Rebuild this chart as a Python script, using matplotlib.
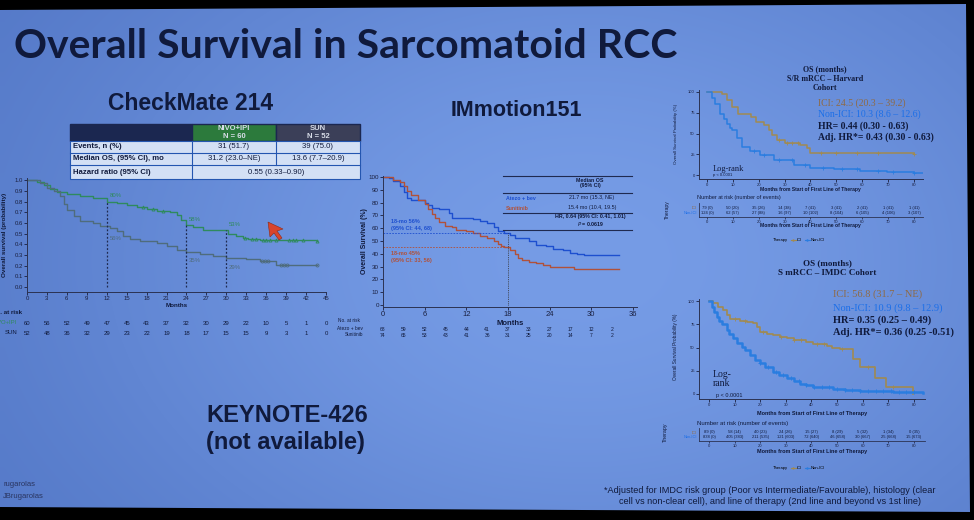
import numpy as np
import matplotlib.pyplot as plt
from matplotlib.lines import Line2D
from matplotlib.patches import Polygon, Rectangle

plt.rcParams['font.family'] = ['Liberation Sans', 'DejaVu Sans']

W, H = 974, 520

# ---------------- data ----------------
# CheckMate 214 (sarcomatoid subgroup)
cm_nivo_t = [0, 1.5, 2.5, 3.5, 4.5, 6, 8, 10, 12, 13.5, 15, 16.5, 18, 19.5, 21.5, 22.5, 23.2, 24, 25, 26.5, 30.3, 31.5, 32.5, 33.3, 35, 43.6]
cm_nivo_s = [1.0, 0.98, 0.95, 0.92, 0.89, 0.87, 0.85, 0.83, 0.80, 0.79, 0.77, 0.75, 0.73, 0.71, 0.70, 0.67, 0.63, 0.58, 0.56, 0.53, 0.50, 0.48, 0.46, 0.45, 0.44, 0.43]
cm_sun_t = [0, 2, 3, 4, 5, 5.5, 6, 7, 8, 10, 11, 12.5, 13.5, 14.5, 15.5, 17, 19.5, 21, 22.5, 24, 26, 28, 30, 33, 35, 37.5, 43.6]
cm_sun_s = [1.0, 0.97, 0.93, 0.90, 0.85, 0.78, 0.72, 0.66, 0.62, 0.60, 0.57, 0.55, 0.52, 0.48, 0.45, 0.43, 0.41, 0.38, 0.35, 0.33, 0.31, 0.29, 0.27, 0.26, 0.24, 0.21, 0.21]
cm_nivo_cens = [17.5, 19, 20.5, 32.8, 33.8, 34.5, 35.5, 36, 36.5, 37.5, 39.5, 40, 40.5, 41.5, 43.6]
cm_sun_cens = [35.3, 35.8, 36.3, 38.2, 38.7, 39.2, 43.6]
cm_marks = [12, 24, 30]
cm_nivo_pct = [80, 58, 53]
cm_sun_pct = [56, 35, 29]
cm_risk_months = [0, 3, 6, 9, 12, 15, 18, 21, 24, 27, 30, 33, 36, 39, 42, 45]
cm_risk_nivo = [60, 56, 52, 49, 47, 45, 43, 37, 32, 30, 29, 22, 10, 5, 1, 0]
cm_risk_sun = [52, 48, 36, 32, 29, 23, 22, 19, 18, 17, 15, 15, 9, 3, 1, 0]
cm_table_rows = ['Events, n (%)', 'Median OS, (95% CI), mo', 'Hazard ratio (95% CI)']
cm_table_nivo = ['31 (51.7)', '31.2 (23.0\u2013NE)']
cm_table_sun = ['39 (75.0)', '13.6 (7.7\u201320.9)']
cm_table_hr = '0.55 (0.33\u20130.90)'

# IMmotion151
im_atezo_t = [0, 0.8, 1.5, 2.5, 3, 3.5, 4, 6, 6.5, 7, 8, 9.5, 10, 13, 14, 15, 16, 16.5, 17.5, 18.3, 19, 21, 22, 23.5, 24.5, 26, 27, 28, 29, 34]
im_atezo_s = [100, 99, 97, 93, 88, 84, 82, 80, 78, 76, 75, 72, 68, 67, 66, 64, 61, 58, 56, 55, 52, 50, 47, 46, 44, 43, 41, 40, 39, 39]
im_suni_t = [0, 1.5, 2.5, 3, 3.5, 4, 5, 6, 6.5, 7, 7.5, 8, 9, 10, 10.5, 12, 13, 14, 15, 16, 16.5, 17, 17.5, 18.3, 19, 19.5, 20, 21, 22, 23, 24, 27.5, 34]
im_suni_s = [100, 98, 96, 93, 89, 86, 82, 79, 75, 71, 68, 65, 62, 61, 59, 58, 56, 54, 52, 50, 48, 46, 45, 43, 40, 37, 35, 34, 33, 31, 30, 28, 28]
im_risk_months = [0, 3, 6, 9, 12, 15, 18, 21, 24, 27, 30, 33]
im_risk_atezo = [68, 59, 52, 45, 44, 41, 37, 33, 27, 17, 12, 2]
im_risk_suni = [74, 65, 53, 43, 41, 36, 31, 25, 20, 14, 7, 2]
im_18mo = [56, 45]

# Harvard cohort (S/R mRCC)
hv_ici_t = [0, 5.8, 7.7, 9.7, 12, 14, 17, 19, 22, 24, 25, 27, 30, 36, 38.6, 40, 80]
hv_ici_s = [100, 97, 90, 82, 74, 73, 70, 64, 60, 54, 48, 42, 38, 36, 32, 26, 25]
hv_non_t = [0, 2, 3.2, 5, 6.5, 7.7, 9, 9.7, 11.6, 13.5, 16.8, 20.6, 25.8, 33.5, 40, 49, 59, 69.6, 80, 83.8]
hv_non_s = [100, 93, 86, 74, 67, 62, 57, 54, 44, 34, 29, 24, 18, 12, 9, 7, 5, 4, 2, 0.5]
hv_ici_cens = [28, 31, 33, 35, 44, 50, 58, 66, 80]
hv_non_cens = [18, 22, 28, 33, 38, 45, 52, 58, 66, 72, 80]
hv_risk_months = [0, 10, 20, 30, 40, 50, 60, 70, 80]
hv_risk_ici = ['79 (0)', '50 (20)', '35 (26)', '14 (38)', '7 (41)', '3 (41)', '2 (41)', '1 (41)', '1 (41)']
hv_risk_non = ['124 (0)', '62 (57)', '27 (88)', '16 (97)', '10 (102)', '8 (104)', '6 (105)', '4 (106)', '3 (107)']

# IMDC cohort (S mRCC)
imdc_ici_t = [0, 1.7, 3.6, 5.6, 6.9, 8.2, 12, 14.7, 17.3, 18.6, 19.9, 22.5, 25, 27.7, 30.3, 33, 38, 40.7, 46, 48, 51, 56.3, 59, 64.7, 69, 79.5, 79.8]
imdc_ici_s = [100, 98, 94, 90, 85, 81, 79, 77, 76, 72, 67, 65, 63, 61, 60, 58, 56, 54, 52, 49, 48, 38, 29, 17, 7, 7, 0]
imdc_non_t = [0, 1, 2, 3, 4, 5, 6.9, 8, 9.5, 11, 12.7, 14, 16, 18, 19.9, 22, 25, 27.5, 30.3, 33, 35.5, 38, 40.7, 44, 48.5, 53, 59, 65, 72, 78, 83.6]
imdc_non_s = [100, 94, 88, 83, 79, 75, 69, 65, 60, 55, 51, 47, 42, 37, 33, 29, 24, 20, 17, 14, 11, 10, 8, 7, 5, 4.3, 3.6, 3, 2.5, 2, 1.4]
imdc_ici_cens = [10, 14, 21, 28, 33, 36, 42, 45, 52, 62, 72]
imdc_non_cens = [20, 23, 26, 29, 32, 35, 38, 41, 44, 47, 50, 53, 56, 59, 62, 65, 68, 71, 74, 77, 80]
imdc_risk_ici = ['89 (0)', '58 (14)', '40 (23)', '24 (26)', '15 (27)', '8 (29)', '5 (32)', '1 (34)', '0 (35)']
imdc_risk_non = ['838 (0)', '405 (383)', '211 (535)', '121 (603)', '72 (640)', '46 (658)', '30 (667)', '25 (668)', '15 (673)']

# ---------------- colours ----------------
DARK = '#101a3c'
NIVO_C = '#2f8a5e'
SUN_C = '#4f6c7c'
ATEZO_C = '#1d4fcf'
SUNI_C = '#b0513a'
ICI_C = '#a08a52'
NON_C = '#2a7de0'
ICI_TXT = '#8e6a46'
NON_TXT = '#1c6fe8'
SERIF = ['Liberation Serif', 'DejaVu Serif']

fig = plt.figure(figsize=(W / 100, H / 100), dpi=100, facecolor='black')


def rect(x0, y0, x1, y1):
    return [x0 / W, 1 - y1 / H, (x1 - x0) / W, (y1 - y0) / H]


def step_at(t, s, c):
    i = np.searchsorted(t, c, side='right') - 1
    return np.asarray(s)[i]


# slide background (photo of a projected slide)
bg = fig.add_axes([0, 0, 1, 1])
bg.set_xlim(0, W)
bg.set_ylim(H, 0)
bg.axis('off')
yy, xx = np.mgrid[0:1:80j, 0:1:120j]
shade = np.exp(-((xx - 0.6) ** 2 / 0.35 + (yy - 0.5) ** 2 / 0.6))
lo = np.array([76, 112, 192]) / 255
hi = np.array([118, 156, 230]) / 255
img = lo + (hi - lo) * shade[..., None]
im = bg.imshow(img, extent=[0, W, H, 0], aspect='auto', interpolation='bilinear')
slide = Polygon([(0, 10), (966, 4), (970, 512), (0, 507)], closed=True,
                transform=bg.transData, facecolor='none', edgecolor='none')
bg.add_patch(slide)
im.set_clip_path(slide)


def km_axes(box, xlim, ylim, xticks, yticks, fs, ylabels=None):
    ax = fig.add_axes(rect(*box))
    ax.patch.set_alpha(0)
    ax.set_xlim(xlim)
    ax.set_ylim(ylim)
    for s in ['top', 'right']:
        ax.spines[s].set_visible(False)
    for s in ['left', 'bottom']:
        ax.spines[s].set_linewidth(0.7)
        ax.spines[s].set_color('#2b3252')
    ax.set_xticks(xticks)
    ax.set_yticks(yticks)
    if ylabels is not None:
        ax.set_yticklabels(ylabels)
    ax.tick_params(labelsize=fs, length=2, width=0.6, pad=1, colors='#1a2040')
    return ax


# ---------------- CheckMate 214 ----------------
ax1 = km_axes((27, 178, 326, 292), (0, 45), (-0.047, 1.02), cm_risk_months,
              np.round(np.arange(0, 1.01, 0.1), 1), 4.3,
              ['%.1f' % v for v in np.arange(0, 1.01, 0.1)])
ax1.step(cm_nivo_t, cm_nivo_s, where='post', color=NIVO_C, lw=1.0)
ax1.step(cm_sun_t, cm_sun_s, where='post', color=SUN_C, lw=1.0)
ax1.plot(cm_nivo_cens, [step_at(cm_nivo_t, cm_nivo_s, c) for c in cm_nivo_cens],
         '^', ms=2.2, mfc='none', mec=NIVO_C, mew=0.6)
ax1.plot(cm_sun_cens, [step_at(cm_sun_t, cm_sun_s, c) for c in cm_sun_cens],
         'o', ms=2.2, mfc='none', mec=SUN_C, mew=0.6)
ax1.vlines(cm_marks, 0, [v / 100 for v in cm_nivo_pct], colors='#1f2a50',
           linestyles=(0, (1.5, 1.5)), lw=0.9)
for m, a, b in zip(cm_marks, cm_nivo_pct, cm_sun_pct):
    ax1.text(m + 0.4, a / 100 + 0.03, f'{a}%', color=NIVO_C, fontsize=4.3, va='bottom')
    ax1.text(m + 0.4, b / 100 - 0.13, f'{b}%', color=SUN_C, fontsize=4.3, va='bottom')
ax1.set_xlabel('Months', fontsize=4.5, fontweight='bold', labelpad=1, color=DARK)
tr1 = ax1.get_xaxis_transform()
for m, a, b in zip(cm_risk_months, cm_risk_nivo, cm_risk_sun):
    ax1.text(m, -0.272, str(a), transform=tr1, fontsize=4.3, ha='center', va='center', color=DARK)
    ax1.text(m, -0.36, str(b), transform=tr1, fontsize=4.3, ha='center', va='center', color=DARK)

# ---------------- IMmotion151 ----------------
ax2 = km_axes((383, 176, 637, 307), (0, 36.6), (-1.5, 100.8), [0, 6, 12, 18, 24, 30, 36],
              list(range(0, 101, 10)), 4.5)
ax2.tick_params(axis='x', labelsize=5.5)
ax2.step(im_atezo_t, im_atezo_s, where='post', color=ATEZO_C, lw=1.0)
ax2.step(im_suni_t, im_suni_s, where='post', color=SUNI_C, lw=1.0)
ax2.hlines(im_18mo[0], 0, 18, colors=ATEZO_C, linestyles=(0, (2, 1.5)), lw=0.6)
ax2.hlines(im_18mo[1], 0, 18, colors=SUNI_C, linestyles=(0, (2, 1.5)), lw=0.6)
ax2.vlines(18, 0, im_18mo[0], colors='#333', linestyles=(0, (1, 1.2)), lw=0.6)
ax2.set_xlabel('Months', fontsize=5.5, fontweight='bold', labelpad=1, color=DARK)
tr2 = ax2.get_xaxis_transform()
for m, a, b in zip(im_risk_months, im_risk_atezo, im_risk_suni):
    ax2.text(m, -0.168, str(a), transform=tr2, fontsize=3.6, ha='center', va='center', color=DARK)
    ax2.text(m, -0.214, str(b), transform=tr2, fontsize=3.6, ha='center', va='center', color=DARK)

# ---------------- Harvard cohort ----------------
ax3 = km_axes((699, 90, 923, 179), (-3.1, 83.5), (-4.8, 102.4), hv_risk_months,
              [0, 25, 50, 75, 100], 3)
ax3.step(hv_ici_t, hv_ici_s, where='post', color=ICI_C, lw=1.1)
ax3.step(hv_non_t, hv_non_s, where='post', color=NON_C, lw=1.1)
ax3.plot(hv_ici_cens, [step_at(hv_ici_t, hv_ici_s, c) for c in hv_ici_cens], '+',
         ms=2.5, color=ICI_C, mew=0.6)
ax3.plot(hv_non_cens, [step_at(hv_non_t, hv_non_s, c) for c in hv_non_cens], '+',
         ms=2.5, color=NON_C, mew=0.6)

# ---------------- IMDC cohort ----------------
ax4 = km_axes((699, 299, 925, 399), (-3.9, 84.3), (-5.4, 102.2), hv_risk_months,
              [0, 25, 50, 75, 100], 3)
ax4.step(imdc_ici_t, imdc_ici_s, where='post', color=ICI_C, lw=1.2)
ax4.step(imdc_non_t, imdc_non_s, where='post', color=NON_C, lw=1.8)
ax4.plot(imdc_ici_cens, [step_at(imdc_ici_t, imdc_ici_s, c) for c in imdc_ici_cens], '+',
         ms=2.5, color=ICI_C, mew=0.6)
ax4.plot(imdc_non_cens, [step_at(imdc_non_t, imdc_non_s, c) for c in imdc_non_cens], '+',
         ms=2.5, color=NON_C, mew=0.7)


def risk_axes(box, xlim, ici, non):
    ax = fig.add_axes(rect(*box))
    ax.patch.set_alpha(0)
    ax.set_xlim(xlim)
    ax.set_ylim(0, 1)
    for s in ['top', 'right']:
        ax.spines[s].set_visible(False)
    for s in ['left', 'bottom']:
        ax.spines[s].set_linewidth(0.6)
        ax.spines[s].set_color('#2b3252')
    ax.set_yticks([])
    ax.set_xticks(hv_risk_months)
    ax.tick_params(labelsize=3, length=1.5, width=0.5, pad=1, colors='#1a2040')
    for m, a, b in zip(hv_risk_months, ici, non):
        ax.text(m, 0.66, a, fontsize=3, ha='center', va='center', color=DARK)
        ax.text(m, 0.28, b, fontsize=3, ha='center', va='center', color=DARK)
    return ax


risk_axes((699, 203, 923, 217), (-3.1, 83.5), hv_risk_ici, hv_risk_non)
risk_axes((699, 428, 925, 441), (-3.9, 84.3), imdc_risk_ici, imdc_risk_non)

for yl in [240, 468]:
    handles = [Line2D([], [], color='none'),
               Line2D([], [], color=ICI_C, marker='+', ms=2, lw=0.8),
               Line2D([], [], color=NON_C, marker='+', ms=2, lw=0.8)]
    fig.legend(handles, ['Therapy', 'ICI', 'Non-ICI'], loc='center',
               bbox_to_anchor=(796 / W, 1 - yl / H), ncol=3, fontsize=3, frameon=False,
               handlelength=1.2, handletextpad=0.3, columnspacing=0.6)

# ---------------- slide text (pixel coordinates) ----------------
pa = fig.add_axes([0, 0, 1, 1])
pa.set_xlim(0, W)
pa.set_ylim(H, 0)
pa.axis('off')
pa.patch.set_alpha(0)

title = pa.text(14, 47, 'Overall Survival in Sarcomatoid RCC', fontsize=30, fontweight='bold',
                family=['Lato', 'DejaVu Sans'], color=DARK, va='center', ha='left')
r = fig.canvas.get_renderer()
title.set_fontsize(30 * 662 / title.get_window_extent(r).width)

pa.text(191, 104, 'CheckMate 214', fontsize=16.5, fontweight='bold', color=DARK, ha='center', va='center')
pa.text(516, 110, 'IMmotion151', fontsize=15.5, fontweight='bold', color=DARK, ha='center', va='center')
pa.text(287, 415, 'KEYNOTE-426', fontsize=17, fontweight='bold', color=DARK, ha='center', va='center')
pa.text(285, 443, '(not available)', fontsize=17, fontweight='bold', color=DARK, ha='center', va='center')

# CheckMate summary table
row_y = [124, 141, 153, 165, 179]
pa.add_patch(Rectangle((70, 124), 122, 17, facecolor='#1b2750', edgecolor='#1b2750'))
pa.add_patch(Rectangle((192, 124), 84, 17, facecolor='#2c7a3c', edgecolor='#1b2750'))
pa.add_patch(Rectangle((276, 124), 84, 17, facecolor='#3b3f58', edgecolor='#1b2750'))
pa.add_patch(Rectangle((70, 141), 290, 38, facecolor='#d3e0f5', edgecolor='#2456b0', lw=0.8))
for y in row_y[2:4]:
    pa.plot([70, 360], [y, y], color='#2456b0', lw=0.8)
pa.plot([192, 192], [141, 179], color='#2456b0', lw=0.8)
pa.plot([276, 276], [141, 165], color='#2456b0', lw=0.8)
pa.text(234, 132.5, 'NIVO+IPI\nN = 60', fontsize=5.5, fontweight='bold', color='#d8dde8',
        ha='center', va='center', linespacing=1.2)
pa.text(318, 132.5, 'SUN\nN = 52', fontsize=5.5, fontweight='bold', color='#d8dde8',
        ha='center', va='center', linespacing=1.2)
for i, lab in enumerate(cm_table_rows):
    yc = (row_y[i + 1] + row_y[i + 2]) / 2
    pa.text(73, yc, lab, fontsize=5.6, fontweight='bold', color=DARK, va='center')
for i in range(2):
    yc = (row_y[i + 1] + row_y[i + 2]) / 2
    pa.text(234, yc, cm_table_nivo[i], fontsize=5.6, color=DARK, ha='center', va='center')
    pa.text(318, yc, cm_table_sun[i], fontsize=5.6, color=DARK, ha='center', va='center')
pa.text(276, 172, cm_table_hr, fontsize=5.6, color=DARK, ha='center', va='center')

# CheckMate labels
pa.text(5, 235, 'Overall survival (probability)', fontsize=4.5, fontweight='bold', color=DARK,
        rotation=90, ha='center', va='center')
pa.text(22, 313, 'No. at risk', fontsize=4.5, fontweight='bold', color=DARK, ha='right', va='center')
pa.text(17, 323, 'NIVO+IPI', fontsize=4.3, color=NIVO_C, ha='right', va='center')
pa.text(17, 333, 'SUN', fontsize=4.3, color=DARK, ha='right', va='center')
pa.add_patch(Polygon([(268, 222), (283, 229), (277, 231), (282, 238), (279, 240),
                      (274, 233), (270, 237)], closed=True, facecolor='#d9442b',
                     edgecolor='#8a2a1a', lw=0.4))

# IMmotion labels
pa.text(364, 241, 'Overall Survival (%)', fontsize=5, fontweight='bold', color=DARK,
        rotation=90, ha='center', va='center')
for y in [176, 193, 213, 230]:
    pa.plot([503, 632], [y, y], color='#1f2a50', lw=0.8)
pa.text(590, 183, 'Median OS\n(95% CI)', fontsize=3.8, fontweight='bold', color=DARK,
        ha='center', va='center')
pa.text(506, 198, 'Atezo + bev', fontsize=3.8, fontweight='bold', color=ATEZO_C, va='center')
pa.text(506, 208, 'Sunitinib', fontsize=3.8, fontweight='bold', color=SUNI_C, va='center')
pa.text(592, 198, '21.7 mo (15.3, NE)', fontsize=3.8, color=DARK, ha='center', va='center')
pa.text(592, 208, '15.4 mo (10.4, 19.5)', fontsize=3.8, color=DARK, ha='center', va='center')
pa.text(590, 221, 'HR, 0.64 (95% CI: 0.41, 1.01)\n$\\it{P}$ = 0.0619', fontsize=3.8,
        fontweight='bold', color=DARK, ha='center', va='center')
pa.text(391, 225, '18-mo 56%\n(95% CI: 44, 68)', fontsize=4, fontweight='bold', color=ATEZO_C,
        va='center', linespacing=1.3)
pa.text(391, 257, '18-mo 45%\n(95% CI: 33, 56)', fontsize=4, fontweight='bold', color=SUNI_C,
        va='center', linespacing=1.3)
pa.text(338, 320, 'No. at risk', fontsize=3.4, color=DARK, va='center')
pa.text(363, 329, 'Atezo + bev', fontsize=3.4, color=DARK, ha='right', va='center')
pa.text(363, 335, 'Sunitinib', fontsize=3.4, color=DARK, ha='right', va='center')

# Harvard text
pa.text(825, 79, 'OS (months)\nS/R mRCC \u2013 Harvard\nCohort', fontsize=5.8, fontweight='bold',
        family=SERIF, color=DARK, ha='center', va='center', linespacing=1.25)
pa.text(818, 103, 'ICI: 24.5 (20.3 \u2013 39.2)', fontsize=7, family=SERIF, color=ICI_TXT, va='center')
pa.text(818, 114, 'Non-ICI: 10.3 (8.6 \u2013 12.6)', fontsize=7, family=SERIF, color=NON_TXT, va='center')
pa.text(818, 126, 'HR= 0.44 (0.30 - 0.63)', fontsize=7, family=SERIF, fontweight='bold', color=DARK, va='center')
pa.text(818, 137, 'Adj. HR*= 0.43 (0.30 - 0.63)', fontsize=7, family=SERIF, fontweight='bold', color=DARK, va='center')
pa.text(713, 169, 'Log-rank', fontsize=6, family=SERIF, color=DARK, va='center')
pa.text(713, 175, 'p < 0.0001', fontsize=3, color=DARK, va='center')
pa.text(676, 134, 'Overall Survival Probability (%)', fontsize=3.2, color=DARK, rotation=90,
        ha='center', va='center')
pa.text(810, 190, 'Months from Start of First Line of Therapy', fontsize=3.6, fontweight='bold',
        color=DARK, ha='center', va='center')
pa.text(697, 198, 'Number at risk (number of events)', fontsize=4, color=DARK, va='center')
pa.text(667, 210, 'Therapy', fontsize=3.6, color=DARK, rotation=90, ha='center', va='center')
pa.text(697, 208, 'ICI', fontsize=2.8, color=ICI_TXT, ha='right', va='center')
pa.text(697, 213, 'Non-ICI', fontsize=2.8, color=NON_TXT, ha='right', va='center')
pa.text(810, 226, 'Months from Start of First Line of Therapy', fontsize=3.6, fontweight='bold',
        color=DARK, ha='center', va='center')

# IMDC text
pa.text(827, 268, 'OS (months)\nS mRCC \u2013 IMDC Cohort', fontsize=6.5, fontweight='bold',
        family=SERIF, color=DARK, ha='center', va='center', linespacing=1.25)
pa.text(833, 294, 'ICI: 56.8 (31.7 \u2013 NE)', fontsize=7.5, family=SERIF, color=ICI_TXT, va='center')
pa.text(833, 308, 'Non-ICI: 10.9 (9.8 \u2013 12.9)', fontsize=7.5, family=SERIF, color=NON_TXT, va='center')
pa.text(833, 320, 'HR= 0.35 (0.25 \u2013 0.49)', fontsize=7.5, family=SERIF, fontweight='bold', color=DARK, va='center')
pa.text(833, 332, 'Adj. HR*= 0.36 (0.25 -0.51)', fontsize=7.5, family=SERIF, fontweight='bold', color=DARK, va='center')
pa.text(713, 379, 'Log-\nrank', fontsize=7, family=SERIF, color=DARK, va='center', linespacing=1.1)
pa.text(716, 395, 'p < 0.0001', fontsize=4, color=DARK, va='center')
pa.text(675, 347, 'Overall Survival Probability (%)', fontsize=3.4, color=DARK, rotation=90,
        ha='center', va='center')
pa.text(812, 413, 'Months from Start of First Line of Therapy', fontsize=4, fontweight='bold',
        color=DARK, ha='center', va='center')
pa.text(697, 423, 'Number at risk (number of events)', fontsize=4.3, color=DARK, va='center')
pa.text(665, 432, 'Therapy', fontsize=3.8, color=DARK, rotation=90, ha='center', va='center')
pa.text(697, 433, 'ICI', fontsize=2.8, color=ICI_TXT, ha='right', va='center')
pa.text(697, 437, 'Non-ICI', fontsize=2.8, color=NON_TXT, ha='right', va='center')
pa.text(812, 452, 'Months from Start of First Line of Therapy', fontsize=4, fontweight='bold',
        color=DARK, ha='center', va='center')

# footer
pa.text(4, 484, 'rugarolas', fontsize=5.5, color='#2a3560', va='center')
pa.text(3, 496, 'JBrugarolas', fontsize=5.5, color='#2a3560', va='center')
pa.text(770, 496, '*Adjusted for IMDC risk group (Poor vs Intermediate/Favourable), histology (clear\n'
        'cell vs non-clear cell), and line of therapy (2nd line and beyond vs 1st line)',
        fontsize=6.6, color=DARK, ha='center', va='center', linespacing=1.3)

fig.savefig('out.png', dpi=100, facecolor='black')
